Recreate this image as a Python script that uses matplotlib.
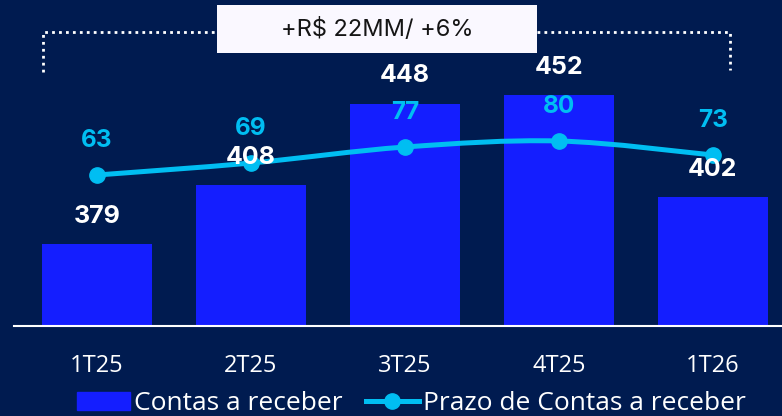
import numpy as np
import matplotlib.pyplot as plt
from matplotlib.path import Path
from matplotlib.patches import PathPatch, Patch
from matplotlib.lines import Line2D

# data
quarters = ['1T25', '2T25', '3T25', '4T25', '1T26']
contas = [379, 408, 448, 452, 402]
prazo = [63, 69, 77, 80, 73]
bar_name = 'Contas a receber'
line_name = 'Prazo de Contas a receber'
callout = '+R$ 22MM/ +6%'

navy = '#001B50'
blue = '#141EFF'
cyan = '#00BEF2'

plt.rcParams['font.family'] = ['Open Sans', 'DejaVu Sans']
num_font = ['Inter', 'DejaVu Sans']

fig = plt.figure(figsize=(7.82, 4.16), dpi=100, facecolor=navy)
ax = fig.add_axes([0.0179, 0.2163, 0.982, 0.7837])
ax.set_facecolor(navy)

x = np.arange(len(quarters))
ax.bar(x, contas, width=0.71, color=blue, zorder=2)
ax.set_ylim(339, 498.8)
ax.set_xlim(-0.539, 4.448)
ax.set_xticks(x, quarters)
ax.tick_params(axis='x', length=0, pad=20, labelsize=17, colors='white')
ax.set_yticks([])
for s in ['top', 'left', 'right']:
    ax.spines[s].set_visible(False)
ax.spines['bottom'].set_color('white')
ax.spines['bottom'].set_linewidth(1.5)

ax2 = ax.twinx()
ax2.set_ylim(-12.5, 150.5)
ax2.set_yticks([])
for s in ax2.spines.values():
    s.set_visible(False)

# smooth line through the points (catmull-rom as bezier segments)
pts = np.column_stack([x, prazo]).astype(float)
ext = np.vstack([pts[0], pts, pts[-1]])
verts = [tuple(pts[0])]
codes = [Path.MOVETO]
for i in range(len(pts) - 1):
    p0, p1, p2, p3 = ext[i], ext[i + 1], ext[i + 2], ext[i + 3]
    c1 = p1 + (p2 - p0) / 6
    c2 = p2 - (p3 - p1) / 6
    verts += [tuple(c1), tuple(c2), tuple(p2)]
    codes += [Path.CURVE4] * 3
ax2.add_patch(PathPatch(Path(verts, codes), fc='none', ec=cyan, lw=3.6, capstyle='round', zorder=3))
ax2.plot(x, prazo, 'o', color=cyan, ms=11, zorder=4)

for i, v in enumerate(prazo):
    ax2.annotate(str(v), xy=(i, v), xytext=(0, 25), textcoords='offset points',
                 ha='center', va='center', color=cyan, fontsize=17.5, fontweight='bold',
                 family=num_font, zorder=5)
for i, v in enumerate(contas):
    ax2.annotate(str(v), xy=(i, v), xycoords=ax.transData, xytext=(0, 20), textcoords='offset points',
                 ha='center', va='center', color='white', fontsize=18, fontweight='bold',
                 family=num_font, zorder=6)

# callout box and dotted bracket
fig.patches.append(plt.Rectangle((0.2775, 0.8726), 0.4092, 0.1154, transform=fig.transFigure,
                                 facecolor='#FAF8FF', edgecolor='none', zorder=5))
fig.text(0.482, 0.928, callout, ha='center', va='center', fontsize=17, color='#151515',
         family=num_font, zorder=6)
dots = dict(color='white', lw=2, linestyle=(0, (1, 1.5)), transform=fig.transFigure)
fig.add_artist(Line2D([0.055, 0.055, 0.2775], [0.827, 0.923, 0.923], **dots))
fig.add_artist(Line2D([0.6867, 0.9335, 0.9335], [0.923, 0.923, 0.832], **dots))

handles = [Patch(color=blue), Line2D([], [], color=cyan, lw=3.6, marker='o', ms=11)]
fig.legend(handles, [bar_name, line_name], loc='center', bbox_to_anchor=(0.526, 0.029), ncol=2,
           frameon=False, fontsize=19, labelcolor='white', handlelength=2.0, handleheight=0.65,
           handletextpad=0.15, columnspacing=0.9)

fig.savefig('out.png', dpi=100, facecolor=navy)
